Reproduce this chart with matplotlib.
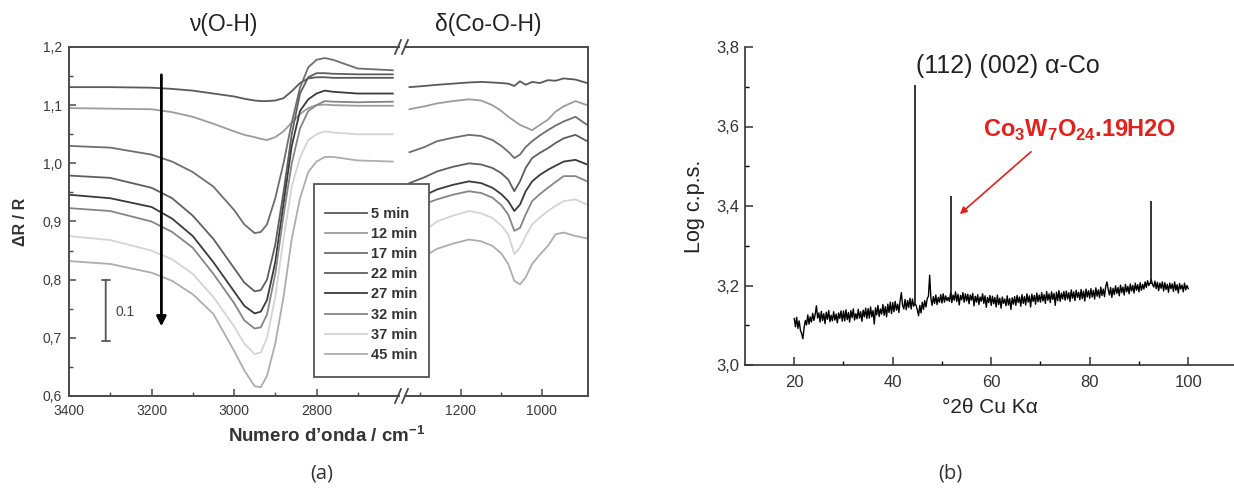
import numpy as np
import matplotlib
matplotlib.use("Agg")
from matplotlib import pyplot as plt
from matplotlib.patches import Rectangle
from matplotlib.lines import Line2D

plt.rcParams['font.family'] = ['Liberation Sans', 'DejaVu Sans']
plt.rcParams['mathtext.fontset'] = 'custom'
plt.rcParams['mathtext.rm'] = 'Liberation Sans'
plt.rcParams['mathtext.bf'] = 'Liberation Sans:bold'

# ---- (a) IR spectra, nu(O-H) region ----
times = ["5 min", "12 min", "17 min", "22 min", "27 min", "32 min", "37 min", "45 min"]
colors = ["#5a5a5a", "#9c9c9c", "#6e6e6e", "#5e5e5e", "#3a3a3a", "#858585", "#d4d4d4", "#adadad"]

oh_x = [3400, 3300, 3200, 3150, 3100, 3050, 3000, 2975, 2950, 2935, 2920,
        2900, 2880, 2860, 2840, 2820, 2800, 2780, 2760, 2700, 2615]
oh_y = [
    [1.131, 1.131, 1.130, 1.128, 1.125, 1.120, 1.115, 1.111, 1.108, 1.107, 1.107,
     1.108, 1.112, 1.124, 1.138, 1.146, 1.148, 1.148, 1.147, 1.147, 1.147],
    [1.095, 1.094, 1.093, 1.088, 1.080, 1.068, 1.055, 1.049, 1.045, 1.042, 1.040,
     1.045, 1.055, 1.070, 1.085, 1.095, 1.100, 1.101, 1.100, 1.099, 1.099],
    [1.030, 1.027, 1.015, 1.003, 0.985, 0.960, 0.920, 0.895, 0.880, 0.882, 0.895,
     0.940, 1.000, 1.070, 1.130, 1.165, 1.178, 1.181, 1.178, 1.163, 1.160],
    [0.979, 0.975, 0.958, 0.940, 0.910, 0.870, 0.820, 0.795, 0.780, 0.782, 0.800,
     0.860, 0.950, 1.050, 1.120, 1.148, 1.155, 1.155, 1.154, 1.153, 1.153],
    [0.946, 0.940, 0.925, 0.905, 0.875, 0.830, 0.780, 0.755, 0.742, 0.745, 0.765,
     0.830, 0.930, 1.030, 1.090, 1.110, 1.120, 1.125, 1.123, 1.120, 1.120],
    [0.923, 0.918, 0.900, 0.882, 0.855, 0.810, 0.760, 0.730, 0.716, 0.718, 0.740,
     0.810, 0.910, 1.000, 1.060, 1.090, 1.100, 1.107, 1.106, 1.105, 1.106],
    [0.875, 0.868, 0.850, 0.835, 0.810, 0.770, 0.720, 0.690, 0.672, 0.675, 0.700,
     0.770, 0.870, 0.960, 1.010, 1.040, 1.050, 1.055, 1.053, 1.050, 1.050],
    [0.832, 0.827, 0.812, 0.798, 0.775, 0.741, 0.678, 0.644, 0.617, 0.615, 0.635,
     0.690, 0.770, 0.870, 0.940, 0.985, 1.003, 1.011, 1.011, 1.005, 1.003],
]

# ---- (a) delta(Co-O-H) region ----
co_x = [1327, 1290, 1259, 1220, 1180, 1150, 1122, 1100, 1083, 1068, 1054,
        1040, 1024, 1005, 985, 966, 946, 917, 888]
co_y = [
    [1.131, 1.133, 1.135, 1.137, 1.139, 1.140, 1.139, 1.138, 1.137, 1.133, 1.141,
     1.135, 1.140, 1.138, 1.143, 1.142, 1.146, 1.144, 1.138],
    [1.093, 1.098, 1.103, 1.107, 1.110, 1.108, 1.100, 1.090, 1.080, 1.073, 1.066,
     1.062, 1.057, 1.066, 1.075, 1.089, 1.098, 1.107, 1.100],
    [1.019, 1.028, 1.038, 1.044, 1.049, 1.047, 1.040, 1.030, 1.020, 1.009, 1.015,
     1.028, 1.038, 1.048, 1.057, 1.065, 1.072, 1.080, 1.066],
    [0.966, 0.976, 0.986, 0.994, 1.000, 0.998, 0.992, 0.983, 0.972, 0.952, 0.969,
     0.992, 1.009, 1.018, 1.026, 1.035, 1.043, 1.049, 1.038],
    [0.935, 0.945, 0.955, 0.963, 0.969, 0.966, 0.958, 0.947, 0.935, 0.918, 0.929,
     0.952, 0.969, 0.980, 0.989, 0.996, 1.003, 1.006, 0.998],
    [0.921, 0.930, 0.938, 0.946, 0.952, 0.949, 0.941, 0.928, 0.912, 0.884, 0.889,
     0.912, 0.935, 0.947, 0.958, 0.968, 0.978, 0.978, 0.969],
    [0.867, 0.884, 0.900, 0.910, 0.918, 0.914, 0.906, 0.893, 0.878, 0.844, 0.855,
     0.875, 0.895, 0.907, 0.918, 0.927, 0.935, 0.938, 0.929],
    [0.827, 0.840, 0.853, 0.862, 0.869, 0.866, 0.858, 0.845, 0.827, 0.798, 0.792,
     0.804, 0.827, 0.843, 0.858, 0.878, 0.881, 0.875, 0.871],
]

# ---- (b) XRD pattern, 20..100 deg every 0.25 deg ----
xrd_start, xrd_step = 20.0, 0.25
xrd_logcps = [
    3.117, 3.096, 3.120, 3.092, 3.111, 3.088, 3.079, 3.066, 3.094, 3.112,
    3.101, 3.126, 3.103, 3.121, 3.108, 3.130, 3.112, 3.127, 3.149, 3.118,
    3.131, 3.108, 3.135, 3.112, 3.129, 3.104, 3.133, 3.115, 3.137, 3.109,
    3.125, 3.111, 3.134, 3.113, 3.128, 3.106, 3.131, 3.117, 3.136, 3.110,
    3.136, 3.111, 3.139, 3.114, 3.132, 3.108, 3.137, 3.119, 3.141, 3.113,
    3.129, 3.116, 3.140, 3.118, 3.134, 3.110, 3.138, 3.121, 3.143, 3.117,
    3.142, 3.118, 3.146, 3.121, 3.137, 3.103, 3.144, 3.126, 3.150, 3.122,
    3.141, 3.128, 3.152, 3.125, 3.147, 3.121, 3.153, 3.132, 3.158, 3.129,
    3.157, 3.134, 3.160, 3.138, 3.153, 3.132, 3.162, 3.182, 3.150, 3.141,
    3.165, 3.139, 3.162, 3.145, 3.168, 3.141, 3.166, 3.148, 3.155, 3.150,
    3.138, 3.124, 3.150, 3.131, 3.158, 3.140, 3.162, 3.146, 3.167, 3.173,
    3.226, 3.168, 3.150, 3.172, 3.155, 3.176, 3.152, 3.170, 3.158, 3.177,
    3.156, 3.179, 3.158, 3.174, 3.162, 3.170, 3.160, 3.181, 3.157, 3.176,
    3.163, 3.184, 3.160, 3.178, 3.151, 3.175, 3.164, 3.182, 3.158, 3.179,
    3.161, 3.178, 3.154, 3.176, 3.163, 3.180, 3.149, 3.173, 3.158, 3.177,
    3.152, 3.171, 3.160, 3.179, 3.155, 3.174, 3.145, 3.170, 3.157, 3.175,
    3.150, 3.173, 3.154, 3.170, 3.146, 3.176, 3.152, 3.168, 3.143, 3.171,
    3.155, 3.166, 3.149, 3.174, 3.151, 3.167, 3.140, 3.169, 3.153, 3.172,
    3.150, 3.175, 3.157, 3.171, 3.148, 3.177, 3.155, 3.172, 3.151, 3.179,
    3.158, 3.174, 3.146, 3.178, 3.160, 3.175, 3.153, 3.181, 3.159, 3.176,
    3.158, 3.182, 3.161, 3.177, 3.155, 3.185, 3.163, 3.179, 3.157, 3.184,
    3.165, 3.180, 3.150, 3.183, 3.162, 3.187, 3.160, 3.181, 3.166, 3.185,
    3.163, 3.186, 3.166, 3.182, 3.160, 3.189, 3.168, 3.184, 3.162, 3.188,
    3.170, 3.183, 3.164, 3.190, 3.167, 3.186, 3.161, 3.191, 3.171, 3.187,
    3.168, 3.192, 3.171, 3.188, 3.166, 3.194, 3.173, 3.189, 3.169, 3.196,
    3.175, 3.191, 3.172, 3.198, 3.209, 3.190, 3.176, 3.195, 3.170, 3.193,
    3.177, 3.199, 3.180, 3.195, 3.174, 3.201, 3.182, 3.196, 3.176, 3.203,
    3.184, 3.198, 3.179, 3.204, 3.186, 3.200, 3.181, 3.206, 3.188, 3.202,
    3.184, 3.207, 3.188, 3.203, 3.191, 3.209, 3.195, 3.212, 3.200, 3.206,
    3.214, 3.203, 3.196, 3.211, 3.192, 3.208, 3.187, 3.206, 3.193, 3.209,
    3.186, 3.207, 3.190, 3.203, 3.183, 3.206, 3.192, 3.204, 3.185, 3.209,
    3.188, 3.202, 3.181, 3.205, 3.191, 3.201, 3.184, 3.206, 3.189, 3.200,
    3.192,
]
peak_pos = [44.5, 51.75, 92.5]
peak_base = [3.155, 3.170, 3.205]
peak_top = [3.704, 3.424, 3.413]

W, H = 1234, 501
fig = plt.figure(figsize=(W / 100, H / 100), dpi=100)


def frac(x0, y0, x1, y1):
    # pixel box (top-left origin) -> figure fraction rect
    return [x0 / W, 1 - y1 / H, (x1 - x0) / W, (y1 - y0) / H]


ax1 = fig.add_axes(frac(69, 47, 399, 396))
ax2 = fig.add_axes(frac(405, 47, 588, 396))
ax3 = fig.add_axes(frac(745, 47, W, 365))

spine_c = "#4a4a4a"
lines = []
for ys, c, lab in zip(oh_y, colors, times):
    ln, = ax1.plot(oh_x, ys, color=c, lw=1.3, label=lab)
    lines.append(ln)
for ys, c in zip(co_y, colors):
    ax2.plot(co_x, ys, color=c, lw=1.3)

ax1.set_xlim(3400, 2600)
ax2.set_xlim(1338, 886)
for ax in (ax1, ax2):
    ax.set_ylim(0.6, 1.2)
    for s in ax.spines.values():
        s.set_color(spine_c)
        s.set_linewidth(1.4)
    ax.tick_params(direction="in", colors=spine_c, labelcolor="#3a3a3a",
                   labelsize=10, length=5, width=1.1)
    ax.tick_params(axis="x", pad=6)
    ax.tick_params(axis="y", pad=5)
    ax.tick_params(which="minor", direction="in", colors=spine_c, length=3, width=1.0)
ax1.spines["right"].set_visible(False)
ax2.spines["left"].set_visible(False)
ax2.tick_params(axis="y", which="both", left=False, labelleft=False)

ax1.set_xticks([3400, 3200, 3000, 2800])
ax1.set_xticks([3300, 3100, 2900, 2700], minor=True)
ax2.set_xticks([1200, 1000])
ax2.set_xticks([1300, 1100], minor=True)
yt = [0.6, 0.7, 0.8, 0.9, 1.0, 1.1, 1.2]
ax1.set_yticks(yt)
ax1.set_yticklabels([f"{v:.1f}".replace(".", ",") for v in yt])
ax1.set_yticks([0.65, 0.75, 0.85, 0.95, 1.05, 1.15], minor=True)

# time arrow and scale bar
ax1.annotate("", xy=(3176, 0.715), xytext=(3176, 1.157),
             arrowprops=dict(arrowstyle="-|>", color="black", lw=2.0, mutation_scale=14))
ax1.annotate("", xy=(3311, 0.695), xytext=(3311, 0.800),
             arrowprops=dict(arrowstyle="|-|", color="#555555", lw=1.3,
                             mutation_scale=3, shrinkA=0, shrinkB=0))
ax1.text(3264, 0.745, "0.1", ha="center", va="center", fontsize=10, color="#444444")

# axis break marks
for xb in (398, 405):
    for yb in (47, 396):
        fig.add_artist(Line2D([(xb - 3) / W, (xb + 3) / W], [1 - (yb + 7) / H, 1 - (yb - 7) / H],
                              color=spine_c, lw=1.3))

fig.text(223 / W, 1 - 24 / H, "ν(O-H)", ha="center", va="center", fontsize=16.5, color="#222222")
fig.text(488 / W, 1 - 24 / H, "δ(Co-O-H)", ha="center", va="center", fontsize=16.5, color="#222222")
fig.text(21 / W, 1 - 222 / H, "ΔR / R", ha="center", va="center", rotation=90,
         fontsize=11.5, fontweight="bold", color="#333333")
fig.text(327 / W, 1 - 436 / H, r"Numero d’onda / cm$^{\mathbf{-1}}$", ha="center", va="center",
         fontsize=13.5, fontweight="bold", color="#333333")

# legend box
fig.add_artist(Rectangle((314 / W, 1 - 377 / H), 115 / W, 193 / H, transform=fig.transFigure,
                         facecolor="white", edgecolor="#555555", lw=1.3, zorder=3))
fig.legend(handles=lines, labels=times, loc="upper left",
           bbox_to_anchor=(325 / W, 1 - 207 / H), bbox_transform=fig.transFigure,
           frameon=False, handlelength=2.9, handletextpad=0.25,
           labelspacing=0.42, borderpad=0, borderaxespad=0,
           prop=dict(weight="bold", size=10.5))
leg = fig.legends[-1]
leg.set_zorder(4)
for t in leg.get_texts():
    t.set_color("#333333")

# ---- (b) ----
xrd_x = xrd_start + xrd_step * np.arange(len(xrd_logcps))
ax3.plot(xrd_x, xrd_logcps, color="black", lw=1.0)
ax3.vlines(peak_pos, peak_base, peak_top, color="black", lw=1.1)
ax3.set_xlim(10, 109.3)
ax3.set_ylim(3.0, 3.8)
ax3.spines["top"].set_visible(False)
ax3.spines["right"].set_visible(False)
for s in ("left", "bottom"):
    ax3.spines[s].set_color("#333333")
    ax3.spines[s].set_linewidth(1.2)
ax3.set_xticks([20, 40, 60, 80, 100])
ax3.set_xticks([30, 50, 70, 90], minor=True)
y3 = [3.0, 3.2, 3.4, 3.6, 3.8]
ax3.set_yticks(y3)
ax3.set_yticklabels([f"{v:.1f}".replace(".", ",") for v in y3])
ax3.set_yticks([3.1, 3.3, 3.5, 3.7], minor=True)
ax3.tick_params(direction="in", colors="#333333", labelcolor="#333333",
                labelsize=12, length=6, width=1.1)
ax3.tick_params(axis="x", pad=7)
ax3.tick_params(axis="y", pad=4)
ax3.tick_params(which="minor", direction="in", length=3, width=1.0)
ax3.set_ylabel("Log c.p.s.", fontsize=15.5, color="#222222", labelpad=8)
ax3.set_xlabel("°2θ Cu Kα", fontsize=15, color="#222222", labelpad=6)

ax3.text(44.8, 3.752, "(112) (002) α-Co", fontsize=18, color="#222222", ha="left", va="center")
ax3.text(58.3, 3.589, r"Co$_{\mathbf{3}}$W$_{\mathbf{7}}$O$_{\mathbf{24}}$.19H2O",
         fontsize=17, fontweight="bold", color="#e3201b", ha="left", va="center")
ax3.annotate("", xy=(53.2, 3.375), xytext=(68.5, 3.541),
             arrowprops=dict(arrowstyle="-|>", color="#e3201b", lw=1.2, mutation_scale=10))

fig.text(322 / W, 1 - 474 / H, "(a)", ha="center", va="center", fontsize=14.5,
         family=["Open Sans", "DejaVu Sans"], color="#333333")
fig.text(950 / W, 1 - 474 / H, "(b)", ha="center", va="center", fontsize=14.5,
         family=["Open Sans", "DejaVu Sans"], color="#333333")

fig.savefig("out.png", dpi=100)
